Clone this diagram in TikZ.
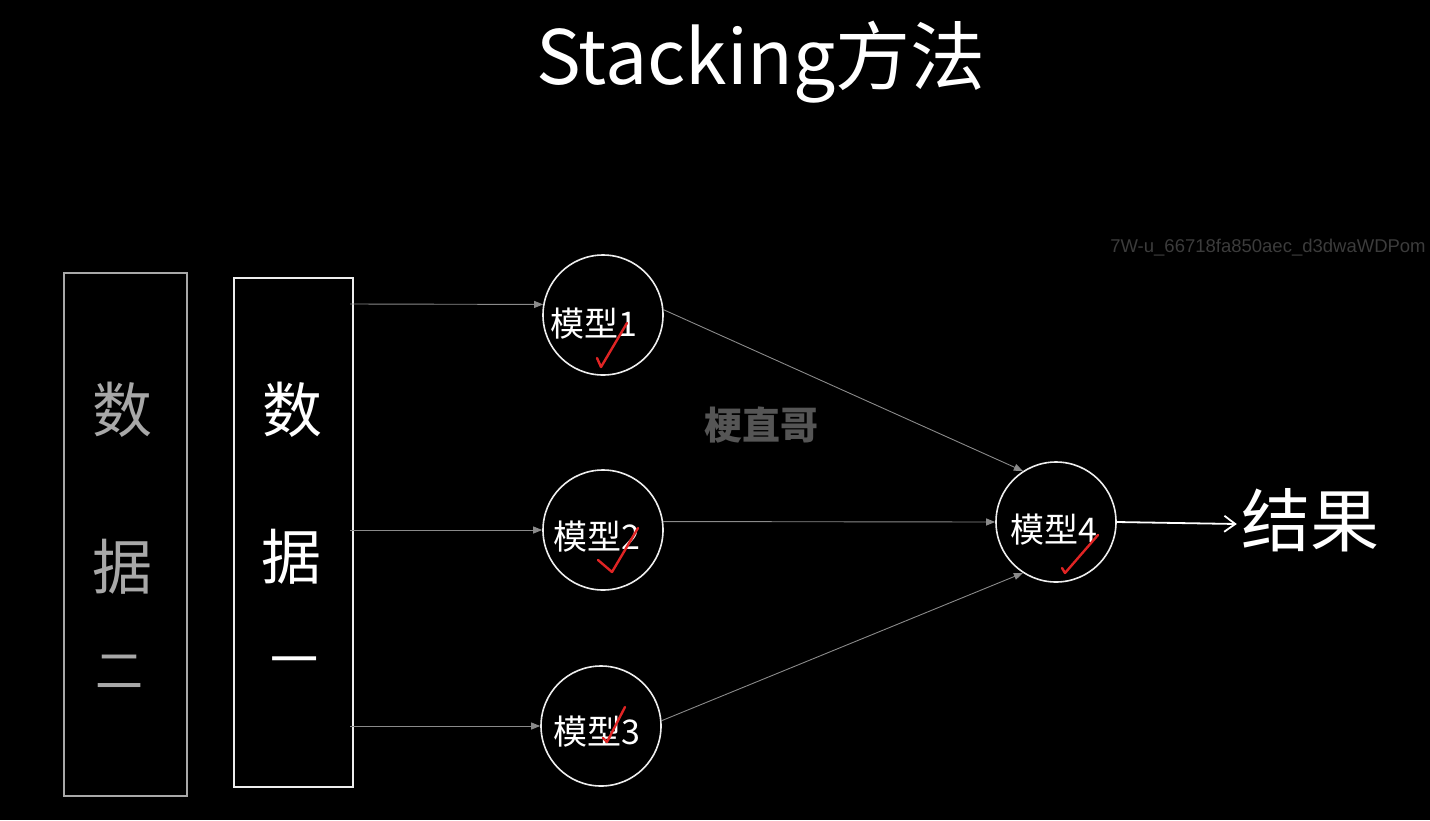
\documentclass[tikz,border=0pt]{standalone}
\usepackage{fontspec}
\newfontfamily\cjk{Noto Sans CJK SC}
\newfontfamily\latin{Liberation Sans}
\usetikzlibrary{arrows.meta}
\definecolor{wline}{HTML}{EEEEEE}
\definecolor{gline}{HTML}{8A8A8A}
\definecolor{boxtwo}{HTML}{A8A8A8}
\definecolor{checkred}{HTML}{E02424}
\definecolor{wmark}{HTML}{3C3C3C}
\definecolor{brand}{HTML}{555555}
\tikzset{
  databox/.style={draw=wline, line width=1.6pt, inner sep=0pt},
  datatwo/.style={draw=boxtwo, line width=1.4pt, inner sep=0pt},
  bigchar/.style={font=\cjk\fontsize{60}{60}\selectfont, text=white, inner sep=0pt},
  bigchartwo/.style={font=\cjk\fontsize{60}{60}\selectfont, text=boxtwo, inner sep=0pt},
  model/.style={circle, draw=wline, line width=1.6pt, minimum size=120pt, inner sep=0pt},
  modeltext/.style={font=\cjk\fontsize{34}{34}\selectfont, text=white, inner sep=0pt},
  feed/.style={draw=gline, line width=0.9pt, -{Triangle[length=9pt,width=7pt]}},
  checkmark/.style={draw=checkred, line width=2.4pt, line cap=round, line join=round},
}
\begin{document}
\begin{tikzpicture}[x=1pt,y=-1pt]
\fill[black] (0,0) rectangle (1430,820);
\useasboundingbox (0,0) rectangle (1430,820);

% title
\node[font=\cjk\fontsize{75}{75}\selectfont, text=white, anchor=base, inner sep=0pt] (title) at (761,84) {Stacking方法};

% watermark
\node[font=\latin\fontsize{18.5}{18.5}\selectfont, text=wmark, inner sep=0pt] (wm) at (1268,248) {7W-u\_66718fa850aec\_d3dwaWDPom};

% brand
\node[font=\cjk\bfseries\fontsize{38}{38}\selectfont, text=brand, inner sep=0pt] (brand) at (761,425) {梗直哥};

% data boxes
\node[datatwo, minimum width=123pt, minimum height=523pt] (d2) at (125.5,534.5) {};
\node[databox, minimum width=119pt, minimum height=509pt] (d1) at (293.5,532.5) {};

\node[bigchartwo] (d2a) at (122,410) {数};
\node[bigchartwo] (d2b) at (122,567) {据};
\node[bigchartwo, font=\cjk\fontsize{48}{48}\selectfont] (d2c) at (119,672) {二};
\node[bigchar] (d1a) at (292,410) {数};
\node[bigchar] (d1b) at (291,557) {据};
\node[bigchar, font=\cjk\fontsize{48}{48}\selectfont] (d1c) at (294,667) {一};

% models
\node[model] (m1) at (603,315) {};
\node[model] (m2) at (603,530) {};
\node[model] (m3) at (601,726) {};
\node[model] (m4) at (1056,522) {};
\node[modeltext] (t1) at (594,324) {模型1};
\node[modeltext] (t2) at (597,537) {模型2};
\node[modeltext] (t3) at (597,732) {模型3};
\node[modeltext] (t4) at (1054,530) {模型4};

% result
\node[font=\cjk\fontsize{69}{69}\selectfont, text=white, inner sep=0pt] (res) at (1310,520) {结果};

% input arrows
\coordinate (s1) at (350,304);
\coordinate (s2) at (350,530);
\coordinate (s3) at (350,726);
\draw[feed] (s1) -- (m1.170);
\draw[feed] (s2) -- (m2.west);
\draw[feed] (s3) -- (m3.west);

% to meta model
\draw[feed] (m1.5) -- (m4.123);
\draw[feed] (m2.8) -- (m4.west);
\draw[feed] (m3.5) -- (m4.237);

% output
\draw[draw=white, line width=1.8pt, line cap=round, -{Straight Barb[length=11pt,width=16pt,line width=1.8pt]}] (m4.east) -- ([xshift=-4pt,yshift=-4pt]res.west);

% check marks
\draw[checkmark] (597,358) -- (601,367) -- (627,323);
\draw[checkmark] (598,560) -- (612,572) -- (638,528);
\draw[checkmark] (603,738) -- (607,742) -- (625,707);
\draw[checkmark] (1062,568) -- (1065,573) -- (1098,535);
\end{tikzpicture}
\end{document}
